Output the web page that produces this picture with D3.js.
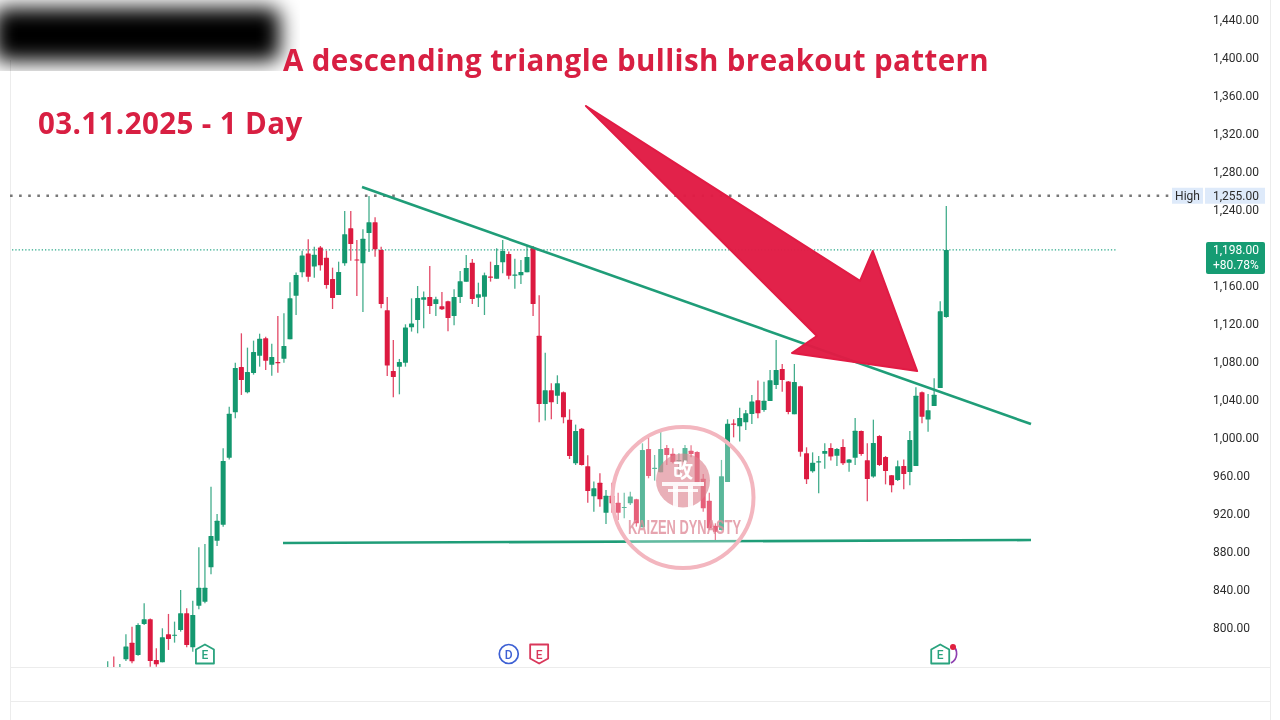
<!DOCTYPE html>
<html>
<head>
<meta charset="utf-8">
<script src="https://cdnjs.cloudflare.com/ajax/libs/d3/7.8.5/d3.min.js"></script>
<style>
html,body{margin:0;padding:0;background:#fff;overflow:hidden}
svg{display:block;filter:blur(0.35px)}
text{font-family:Roboto,sans-serif}
</style>
</head>
<body>
<svg id="chart" width="1280" height="720"></svg>
<script>
var opens = [745,752,745,767,784.6,771.6,804.2,809.1,766.3,763.9,793.4,792,797.9,815.5,779.7,823.5,827.7,863.9,891.9,908.8,
979.3,1027,1074.8,1048.1,1068.4,1086.7,1104.9,1077.2,1080,1083.5,1103.9,1149.8,1174.4,1194.1,1180.4,1200.4,1189.8,1167.4,1150.5,1183.9,
1220.7,1188,1183.9,1215.8,1227,1197.9,1134.4,1070.5,1075.1,1079.3,1116.5,1124.2,1145.6,1148.4,1141.1,1138.6,1143.9,1128.4,1148.4,1164.6,
1184.6,1147.7,1148.8,1170,1167.7,1184.9,1193.7,1171,1171.2,1174.4,1200.4,1107.7,1035.8,1050.2,1044.6,1048.1,1019.3,973.3,1009.8,970.2,
938.6,953,921.4,939.3,931.9,926.5,931.2,935.5,906,988.4,967.6,963.9,989.5,983.5,975.5,975.1,986.7,985.3,957.2,934,
907.7,903.2,953.7,1015.3,1012.3,1016.5,1025.3,1039.7,1029.5,1039,1055.8,1072.7,1059.6,1025,1054.4,983.9,964.9,974.5,983.5,989.5,
981.4,990.5,974,979.3,1007.4,976.5,959.6,1002,980,960.7,955.8,970.5,964.2,970.5,1048.1,1019.6,1033.7,1052.6,1127.4];
var highs = [765,770,762,793.3,801.4,804.9,826,810,778.6,799.7,814.8,806.7,840,820.7,828.8,884.9,888.4,948.8,920,989.1,
1033,1079.3,1110.2,1095.1,1102.5,1109.8,1106.7,1099.3,1128.4,1131.2,1163.9,1174.1,1197.2,1209.1,1201.4,1202.1,1197.2,1179.3,1185.6,1239,
1239,1208.4,1219.7,1254.8,1232.3,1201.4,1148.4,1103.2,1083.2,1119.7,1147,1160,1154.1,1181.1,1148.8,1153.7,1144.6,1156.5,1175.8,1192.7,
1188.4,1163.5,1174.1,1185.6,1199.7,1208.4,1196.2,1188.8,1187.4,1202.1,1202.1,1150.2,1089.8,1057.6,1066,1049,1030.2,1014.1,1010.5,981.8,
954.1,962.8,945.3,953,942.5,942.5,943.5,936,994.4,1000.7,982.1,1006.7,992.7,989.1,983.9,992.7,992.3,986,962.1,942.5,
910.2,976.9,1019.7,1019.7,1031.9,1029.5,1045.3,1060.4,1059.3,1071.6,1103.2,1077.9,1060,1077.9,1055,990.2,984.9,981,994.4,994.4,
989.5,998.6,978,1021,1008,994.4,1019.3,1003,981,961,976.2,977.5,1007.4,1053.3,1049,1046.3,1062.8,1143.9,1244.2];
var lows = [738,735,740,765.3,762.8,770.9,803.2,759.3,759.3,763.9,776.9,784.6,796.2,779.7,775.1,819.7,826,856.5,886.3,906.7,
977.5,1020.7,1045.3,1047,1066.7,1075.1,1071.6,1065.6,1068.8,1079.3,1103.9,1129.5,1169.1,1164.6,1168.8,1176.2,1157.2,1135.8,1150.5,1181.4,
1186.7,1149.5,1132.6,1195.8,1190.9,1136.5,1065.3,1042.8,1046,1075.1,1112,1110.2,1115.5,1130.5,1128.4,1134.8,1112.3,1118.6,1142.1,1164.6,
1141.1,1137.9,1129.5,1164.6,1167.7,1173.4,1167,1157.2,1162.1,1174.4,1128.4,1016.5,1018.3,1019.7,1035.8,1015.5,977.9,971.6,971,931.9,
922.5,927.7,909.5,921.4,913.7,915.5,929.5,906.7,906,957.6,955.1,963.9,971.6,973.3,959.3,966.3,979.7,950.5,922.5,903.2,
890.9,902.5,953.7,1000.7,996.2,1008.4,1014.8,1020.7,1027.7,1039,1051.6,1048.8,1025,1025,980.4,951.6,963.5,941.8,967.7,976.2,
970.5,971.6,964.5,971.6,981.4,933.3,958.2,970.5,951.2,942.8,954.8,946,950.2,970.5,1015.4,1006.7,1033.7,1052.6,1126.6];
var closes = [752,742,755,780.4,764.9,803.2,809.1,765.3,761.8,790.2,788.4,793,815.5,782.1,813.7,842.5,842.5,896.9,913,975.8,
1025.6,1073.7,1061.1,1069.5,1090.5,1104.6,1081.4,1085.3,1079,1096.9,1147,1171.6,1192,1169.8,1193,1181.8,1161.1,1147.4,1174.8,1214.4,
1204.2,1187,1209.8,1227,1198.6,1141.1,1076.2,1064.2,1080,1116.2,1120.4,1147.4,1148.1,1139,1146,1135.5,1126.3,1148.4,1164.9,1179,
1146.3,1151.2,1171.2,1169,1182.1,1196.9,1170.9,1172,1174.8,1190.5,1141.1,1035.8,1050.2,1037.6,1057.6,1021.8,981.1,1007.4,971.6,944.2,
947,935.5,939.3,931.2,921.4,927.5,938.3,910.2,987.4,960,968.6,988.4,982.1,974.8,976.9,989.5,983.2,953,926,904.9,
901.4,959.7,1015.1,1014.3,1021.1,1026,1038.3,1026,1039.3,1060.7,1071.6,1061,1027.4,1059,985.6,956.5,974,975.5,986.3,980.4,
988.4,973.3,977.5,1007.7,983.2,956.9,994.7,971.6,965.2,950.2,970.2,962.1,997.9,1044.5,1022.5,1029.1,1045.6,1133.3,1198];

var priceTicks = [800,840,880,920,960,1000,1040,1080,1120,1160,1200,1240,1280,1320,1360,1400,1440];
var shownTicks = priceTicks.filter(function(p){return p!=1200;});
var highPrice = 1255;
var lastPrice = 1198;
var lastChange = "+80.78%";
var titleText = "A descending triangle bullish breakout pattern";
var dateText = "03.11.2025 - 1 Day";
// trend lines and arrow as [bar index, price]
var resistanceLine = [[41.85,1264.2],[151.94,1014.7]];
var supportLine = [[28.85,889.5],[151.94,892.6]];
var arrowPoints = [[78.7,1349.5],[123.8,1165.3],[125.9,1196.8],[133.2,1070.5],[112.6,1089.5],[116.7,1107.4]];
var badges = [
    {bar:16,type:"earnUp",label:"E"},
    {bar:66,type:"div",label:"D"},
    {bar:71,type:"earnDown",label:"E"},
    {bar:137,type:"earnUp",label:"E"}
];

var green = "#14986f", red = "#dc1a40", arrowRed = "#e11b44", lineGreen = "#1f9d78";

var svg = d3.select("#chart");
var x = d3.scaleLinear().domain([0,opens.length-1]).range([107.7,946.3]);
var y = d3.scaleLinear().domain([800,1440]).range([628,20]);

svg.append("rect").attr("width",1280).attr("height",720).attr("fill","#fff");

var defs = svg.append("defs");
defs.append("clipPath").attr("id","pane").append("rect").attr("x",10).attr("y",0).attr("width",1200).attr("height",667);
defs.append("clipPath").attr("id","smudge").append("rect").attr("x",0).attr("y",0).attr("width",300).attr("height",71);
defs.append("filter").attr("id","soft").attr("x","-20%").attr("y","-80%").attr("width","140%").attr("height","260%")
    .append("feGaussianBlur").attr("stdDeviation",10);

// pane borders
function hairline(x1,y1,x2,y2) {
    svg.append("line").attr("x1",x1).attr("y1",y1).attr("x2",x2).attr("y2",y2)
        .attr("stroke","#ececec").attr("stroke-width",1);
}
hairline(10.5,60,10.5,720);
hairline(1270.5,0,1270.5,720);
hairline(10,667.5,1270,667.5);
hairline(10,701.5,1270,701.5);

// high and last price lines
svg.append("line").attr("x1",10).attr("x2",1172).attr("y1",y(highPrice)).attr("y2",y(highPrice))
    .attr("stroke","#777").attr("stroke-width",2.4).attr("stroke-dasharray","2.6 6.5");
svg.append("line").attr("x1",12).attr("x2",1117).attr("y1",y(lastPrice)).attr("y2",y(lastPrice))
    .attr("stroke","#2aa889").attr("stroke-width",1.2).attr("stroke-dasharray","1.3 2");

// candles
var bars = d3.range(opens.length);
var candles = svg.append("g").attr("clip-path","url(#pane)");
function barColor(i) { return closes[i]>=opens[i] ? green : red; }
candles.selectAll("line.wick").data(bars).enter().append("line").attr("class","wick")
    .attr("x1",function(i){return x(i);}).attr("x2",function(i){return x(i);})
    .attr("y1",function(i){return y(highs[i]);}).attr("y2",function(i){return y(lows[i]);})
    .attr("stroke",barColor).attr("stroke-width",1.3).attr("stroke-opacity",0.8);
candles.selectAll("rect.body").data(bars).enter().append("rect").attr("class","body")
    .attr("x",function(i){return x(i)-2.5;}).attr("width",5)
    .attr("y",function(i){return y(Math.max(opens[i],closes[i]));})
    .attr("height",function(i){return Math.max(1.2,Math.abs(y(opens[i])-y(closes[i])));})
    .attr("rx",0.5)
    .attr("fill",barColor);

// trend lines
var trendPath = d3.line().x(function(d){return x(d[0]);}).y(function(d){return y(d[1]);});
[resistanceLine,supportLine].forEach(function(pts){
    svg.append("path").attr("d",trendPath(pts)).attr("fill","none")
        .attr("stroke",lineGreen).attr("stroke-width",2.6);
});

// watermark
var mark = svg.append("g");
mark.append("circle").attr("cx",683).attr("cy",497.5).attr("r",70.5)
    .attr("fill","#fff").attr("fill-opacity",0.3).attr("stroke","#f3b6bf").attr("stroke-width",4);
mark.append("circle").attr("cx",683).attr("cy",480.5).attr("r",27).attr("fill","#dc7f8d").attr("fill-opacity",0.62);
mark.append("text").attr("x",683).attr("y",478).attr("text-anchor","middle").attr("fill","#fff")
    .style("font-family","'Noto Sans CJK JP'").style("font-size","20px").style("font-weight",700).text("改");
mark.append("rect").attr("x",662).attr("y",482).attr("width",42).attr("height",4).attr("fill","#fff").attr("fill-opacity",0.9);
mark.append("rect").attr("x",668).attr("y",489).attr("width",30).attr("height",3).attr("fill","#fff").attr("fill-opacity",0.9);
mark.append("rect").attr("x",673).attr("y",486).attr("width",5).attr("height",23).attr("fill","#fff").attr("fill-opacity",0.9);
mark.append("rect").attr("x",688).attr("y",486).attr("width",5).attr("height",23).attr("fill","#fff").attr("fill-opacity",0.9);
mark.append("text").attr("x",628).attr("y",534).attr("textLength",113).attr("lengthAdjust","spacingAndGlyphs")
    .attr("fill","#e08d9b").attr("fill-opacity",0.8)
    .style("font-family","'Liberation Sans Narrow','Liberation Sans'").style("font-size","20px").style("font-weight",700)
    .text("KAIZEN DYNASTY");

// arrow
svg.append("path")
    .attr("d",d3.line().x(function(d){return x(d[0]);}).y(function(d){return y(d[1]);})(arrowPoints)+"Z")
    .attr("fill",arrowRed).attr("fill-opacity",0.97)
    .attr("stroke",arrowRed).attr("stroke-width",2).attr("stroke-linejoin","round");

// event badges under the bars
function drawBadge(b) {
    var g = svg.append("g").attr("transform","translate("+x(b.bar)+",654)");
    var col = b.type=="earnUp" ? "#2aa37e" : (b.type=="earnDown" ? "#d9375a" : "#3d60d4");
    if(b.type=="div") {
        g.append("circle").attr("r",9.5).attr("fill","#fff").attr("stroke",col).attr("stroke-width",1.7);
    }
    else if(b.type=="earnUp") {
        g.append("path").attr("d","M0,-9.5L9,-4.5V9.5H-9V-4.5Z").attr("fill","#fff").attr("stroke",col)
            .attr("stroke-width",1.8).attr("stroke-linejoin","round");
    }
    else {
        g.append("path").attr("d","M-9,-9.5H9V4.5L0,9.5L-9,4.5Z").attr("fill","#fff").attr("stroke",col)
            .attr("stroke-width",1.8).attr("stroke-linejoin","round");
    }
    g.append("text").attr("y",4.5).attr("text-anchor","middle").attr("fill",col)
        .style("font-size","12px").style("font-weight",500).text(b.label);
}
badges.forEach(drawBadge);
svg.append("path").attr("d","M952,645A10.5,10.5 0 0 1 951,663").attr("fill","none").attr("stroke","#8e3fb0").attr("stroke-width",1.7);
svg.append("circle").attr("cx",953).attr("cy",647).attr("r",3).attr("fill","#e0203f");

// price axis
var axisG = svg.append("g").attr("transform","translate(1211,0)")
    .call(d3.axisRight(y).tickValues(shownTicks).tickSize(0).tickPadding(2).tickFormat(d3.format(",.2f")));
axisG.select(".domain").remove();
axisG.selectAll("text").attr("fill","#2c2c2c").style("font-size","12px").style("font-family","Roboto,sans-serif");

// high label
svg.append("rect").attr("x",1172).attr("y",y(highPrice)-8).attr("width",31).attr("height",16).attr("fill","#deeafa");
svg.append("rect").attr("x",1205).attr("y",y(highPrice)-8).attr("width",60).attr("height",16).attr("fill","#deeafa");
svg.append("text").attr("x",1187.5).attr("y",y(highPrice)+4.3).attr("text-anchor","middle").attr("fill","#2c2c2c")
    .style("font-size","12px").text("High");
svg.append("text").attr("x",1213).attr("y",y(highPrice)+4.3).attr("fill","#2c2c2c")
    .style("font-size","12px").text(d3.format(",.2f")(highPrice));

// last price label
svg.append("rect").attr("x",1206).attr("y",242).attr("width",59).attr("height",32).attr("rx",2).attr("fill","#169c73");
svg.append("text").attr("x",1213).attr("y",y(lastPrice)+4.3).attr("fill","#fff")
    .style("font-size","12px").text(d3.format(",.2f")(lastPrice));
svg.append("text").attr("x",1213).attr("y",269).attr("fill","#fff")
    .style("font-size","12px").text(lastChange);

// smudge top left
svg.append("g").attr("clip-path","url(#smudge)").append("rect")
    .attr("x",-6).attr("y",8).attr("width",286).attr("height",53).attr("rx",10)
    .attr("fill","#000").attr("filter","url(#soft)");

// headings
svg.append("text").attr("x",283).attr("y",71).attr("fill","#d81f42")
    .style("font-family","'Open Sans'").style("font-size","29.5px").style("font-weight",700).style("letter-spacing","0.39px").text(titleText);
svg.append("text").attr("x",38).attr("y",134).attr("fill","#d81f42")
    .style("font-family","'Open Sans'").style("font-size","29.5px").style("font-weight",700).style("letter-spacing","0.39px").text(dateText);
</script>
</body>
</html>
